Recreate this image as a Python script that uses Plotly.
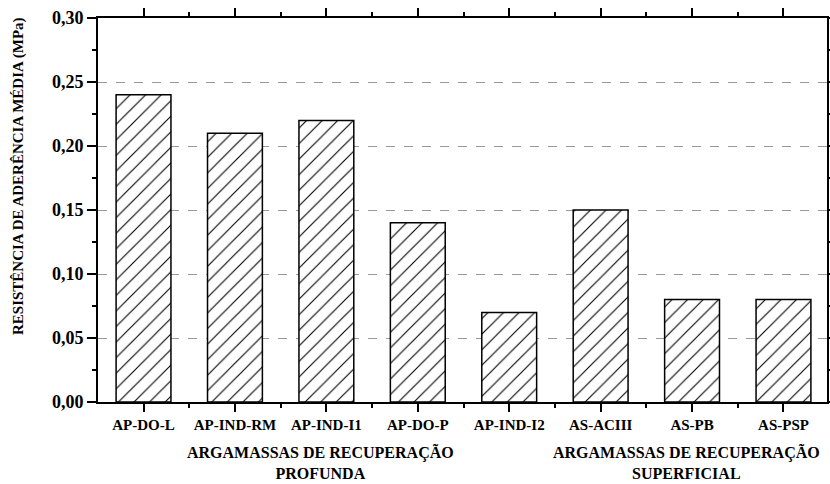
import plotly.graph_objects as go

categories = ["AP-DO-L", "AP-IND-RM", "AP-IND-I1", "AP-DO-P", "AP-IND-I2", "AS-ACIII", "AS-PB", "AS-PSP"]
values = [0.24, 0.21, 0.22, 0.14, 0.07, 0.15, 0.08, 0.08]
y_ticks = [0.00, 0.05, 0.10, 0.15, 0.20, 0.25, 0.30]
group_labels = ["ARGAMASSAS DE RECUPERAÇÃO<br>PROFUNDA", "ARGAMASSAS DE RECUPERAÇÃO<br>SUPERFICIAL"]
y_title = "RESISTÊNCIA DE ADERÊNCIA MÉDIA (MPa)"

FONT = "Liberation Serif"
xpos = list(range(1, len(categories) + 1))

fig = go.Figure()
fig.add_trace(go.Bar(
    x=xpos, y=values, width=0.6,
    marker=dict(color="white", line=dict(color="black", width=1.5),
                pattern=dict(shape="/", fgcolor="black", bgcolor="white", size=11, solidity=0.1, fgopacity=1)),
    showlegend=False, hoverinfo="skip",
))

L, R, T, B = 98, 3, 18, 82
fig.update_layout(
    width=830, height=484,
    margin=dict(l=L, r=R, t=T, b=B, autoexpand=False),
    paper_bgcolor="white", plot_bgcolor="white",
    font=dict(family=FONT, color="black", weight="bold"),
)
fig.update_xaxes(
    range=[0.502, 8.476],
    tickvals=xpos, ticktext=categories,
    tickfont=dict(size=15, family=FONT, weight="bold"),
    ticks="outside", ticklen=8, tickwidth=1.5, tickcolor="black",
    minor=dict(tickvals=[x + 0.5 for x in xpos[:-1]], ticks="outside", ticklen=4, tickwidth=1.5, tickcolor="black"),
    showline=True, linecolor="black", linewidth=2, mirror="allticks",
    showgrid=False, zeroline=False,
)
fig.update_yaxes(
    range=[0, 0.30],
    tickvals=y_ticks, ticktext=[f"{v:.2f}".replace(".", ",") for v in y_ticks],
    tickfont=dict(size=18, family=FONT, weight="bold"),
    ticks="outside", ticklen=9, tickwidth=1.5, tickcolor="black",
    minor=dict(tickvals=[0.025, 0.075, 0.125, 0.175, 0.225, 0.275], ticks="outside", ticklen=4, tickwidth=1.5, tickcolor="black", showgrid=False),
    showline=True, linecolor="black", linewidth=2, mirror="allticks",
    showgrid=True, gridcolor="#999999", griddash="dash", gridwidth=1,
    zeroline=False,
)

plot_w = 830 - L - R
plot_h = 484 - T - B
for txt, xc in zip(group_labels, [320, 686]):
    fig.add_annotation(
        x=(xc - L) / plot_w, y=(402 - 462) / plot_h, xref="paper", yref="paper",
        xanchor="center", yanchor="middle",
        text=txt, showarrow=False,
        font=dict(size=16, family=FONT, weight="bold"), align="center",
    )

fig.add_annotation(
    x=(18 - L) / plot_w, y=(402 - 176) / plot_h, xref="paper", yref="paper",
    xanchor="center", yanchor="middle", textangle=-90,
    text=y_title, showarrow=False,
    font=dict(size=15, family=FONT, weight="bold"),
)

fig.write_html("out.html",
               post_script="document.body.style.margin='0';document.body.style.overflow='hidden';document.documentElement.style.overflow='hidden';",
               config={"displayModeBar": False, "responsive": False})
